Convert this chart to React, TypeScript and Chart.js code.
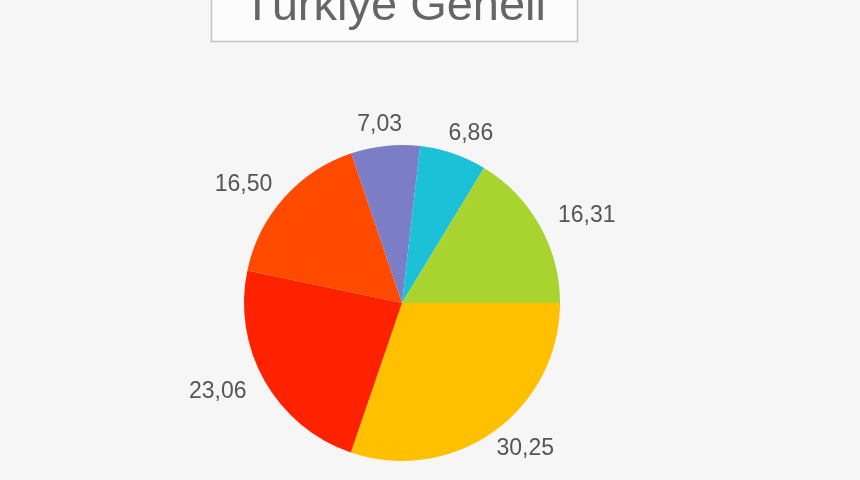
import React, { useEffect, useRef } from "react";
import Chart from "chart.js/auto";

const chartTitle = "Türkiye Geneli";
const regions = ["Dilim 1", "Dilim 2", "Dilim 3", "Dilim 4", "Dilim 5", "Dilim 6"];
const shares = [30.25, 23.06, 16.5, 7.03, 6.86, 16.31];
const shareLabels = ["30,25", "23,06", "16,50", "7,03", "6,86", "16,31"];
const sliceColors = ["#ffc000", "#ff2200", "#ff4a00", "#7b7dc6", "#1cc1d8", "#a9d430"];

const titleBox = {
    id: "titleBox",
    afterDraw(chart: any) {
        const ctx = chart.ctx as CanvasRenderingContext2D;
        ctx.save();
        ctx.fillStyle = "#fcfcfc";
        ctx.strokeStyle = "#c4c4c4";
        ctx.lineWidth = 1.5;
        ctx.fillRect(211.5, -10, 366, 51.5);
        ctx.strokeRect(211.5, -10, 366, 51.5);
        ctx.fillStyle = "#666666";
        ctx.font = "47px 'Liberation Sans', Arial, sans-serif";
        ctx.textAlign = "center";
        ctx.textBaseline = "alphabetic";
        ctx.fillText(chartTitle, 394.5, 20);
        ctx.restore();
    },
};

// labels sit on an ellipse around the pie: wider sideways than up/down
const sliceLabels = {
    id: "sliceLabels",
    afterDatasetsDraw(chart: any) {
        const ctx = chart.ctx as CanvasRenderingContext2D;
        const meta = chart.getDatasetMeta(0);
        ctx.save();
        ctx.fillStyle = "#555555";
        ctx.font = "23px 'Liberation Sans', Arial, sans-serif";
        ctx.textAlign = "center";
        ctx.textBaseline = "middle";
        meta.data.forEach((arc: any, i: number) => {
            const { x, y, startAngle, endAngle, outerRadius } = arc.getProps(
                ["x", "y", "startAngle", "endAngle", "outerRadius"],
                true
            );
            const mid = (startAngle + endAngle) / 2;
            const rx = outerRadius + 54;
            const ry = outerRadius + 21;
            ctx.fillText(shareLabels[i], x + Math.cos(mid) * rx, y + Math.sin(mid) * ry);
        });
        ctx.restore();
    },
};

const PieChart = () => {
    const canvasRef = useRef<HTMLCanvasElement | null>(null);

    useEffect(() => {
        const ctx = canvasRef.current?.getContext("2d") as CanvasRenderingContext2D;
        if (!ctx) return;
        const pie = new Chart(ctx, {
            type: "pie",
            data: {
                labels: regions,
                datasets: [
                    {
                        data: shares,
                        backgroundColor: sliceColors,
                        borderWidth: 0,
                    },
                ],
            },
            options: {
                animation: false,
                responsive: false,
                rotation: 90,
                layout: { padding: { left: 244, right: 300, top: 145, bottom: 19 } },
                plugins: {
                    legend: { display: false },
                    tooltip: { enabled: false },
                    title: { display: false },
                },
            },
            plugins: [titleBox, sliceLabels],
        });
        return () => {
            pie.destroy();
        };
    }, []);

    return (
        <div
            style={{
                position: "fixed",
                left: 0,
                top: 0,
                width: 860,
                height: 480,
                background: "#f6f6f6",
            }}
        >
            <canvas ref={canvasRef} width={860} height={480} />
        </div>
    );
};

export default function App() {
    return <PieChart />;
}
